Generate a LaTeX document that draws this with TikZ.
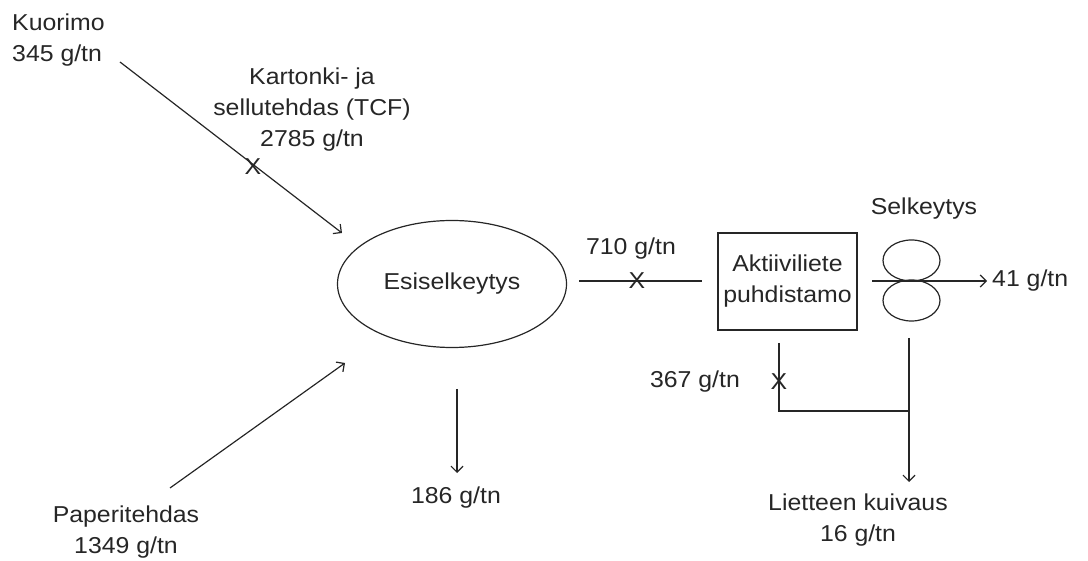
\documentclass[tikz,border=0pt]{standalone}
\usepackage{fontspec}
\setmainfont{Liberation Sans}[FakeStretch=1.08]
\usetikzlibrary{arrows.meta,shapes.geometric,calc}

\begin{document}
\begin{tikzpicture}[x=1pt,y=-1pt,
  lbl/.style={font=\fontsize{23}{31}\selectfont, align=center, inner sep=0pt, text=black!85},
  unit/.style={draw=black!85, line width=1.2pt},
  pipe/.style={draw=black!85, line width=1.2pt},
  flow/.style={pipe, -{Straight Barb[length=6pt,width=12pt,line width=1.2pt]}},
  crossmark/.style={font=\fontsize{23}{23}\selectfont, inner sep=0pt, text=black!85},
]
\useasboundingbox (0,0) rectangle (1088,561);

% --- labels of the inflows and outflows (anchored at the last baseline) ---
\node[lbl, align=left, anchor=base west] (kuorimo) at (12,62) {Kuorimo\\345 g/tn};
\node[lbl, anchor=base] (kartonki) at (312,147) {Kartonki- ja\\sellutehdas (TCF)\\2785 g/tn};
\node[lbl, anchor=base] (paperi) at (126,553) {Paperitehdas\\1349 g/tn};
\node[lbl, anchor=base] (esisakka) at (456,503) {186 g/tn};
\node[lbl, anchor=base] (v710) at (631,255) {710 g/tn};
\node[lbl, anchor=base] (selk) at (924,215) {Selkeytys};
\node[lbl, anchor=base west] (v41) at (992,287) {41 g/tn};
\node[lbl, anchor=base] (v367) at (695,388) {367 g/tn};
\node[lbl, anchor=base] (kuivaus) at (858,541) {Lietteen kuivaus\\16 g/tn};

% --- process units ---
\node[unit, ellipse, lbl, minimum width=229pt, minimum height=127pt] (esi) at (452,284) {Esiselkeytys};
\node[unit, rectangle, lbl, minimum width=139pt, minimum height=97pt] (aktiivi) at (787.5,281.5) {Aktiiviliete\\puhdistamo};
\node[unit, ellipse, minimum width=57pt, minimum height=41pt, inner sep=0pt] (selkA) at (911.5,260.5) {};
\node[unit, ellipse, minimum width=57pt, minimum height=41pt, inner sep=0pt] (selkB) at (911.5,300.5) {};

% --- connector end points ---
\coordinate (kuoStart) at (120,62);
\coordinate (kuoEnd) at (342,233);
\coordinate (papStart) at (170,488);
\coordinate (papEnd) at (345,363);
\coordinate (esiOutTop) at (457,389);
\coordinate (esiOutBot) at (457,473);
\coordinate (toAktA) at (579,281);
\coordinate (toAktB) at (702,281);
\coordinate (effA) at (872,281);
\coordinate (effB) at (987,281);
\coordinate (sludgeA) at (779,343);
\coordinate (sludgeCorner) at (779,411);
\coordinate (sludgeJoin) at (909,411);
\coordinate (settTop) at (909,338);
\coordinate (settBot) at (909,482);

% --- flows ---
\draw[flow] (kuoStart) -- (kuoEnd);
\draw[flow] (papStart) -- (papEnd);
\draw[flow] (esiOutTop) -- (esiOutBot);
\draw[pipe] (toAktA) -- (toAktB);
\draw[flow] (effA) -- (effB);
\draw[pipe] (sludgeA) -- (sludgeCorner) -- (sludgeJoin);
\draw[flow] (settTop) -- (settBot);

% --- sampling points ---
\node[crossmark] (x1) at (253,167) {X};
\node[crossmark] (x2) at (637,281) {X};
\node[crossmark] (x3) at (779,382) {X};
\end{tikzpicture}
\end{document}
